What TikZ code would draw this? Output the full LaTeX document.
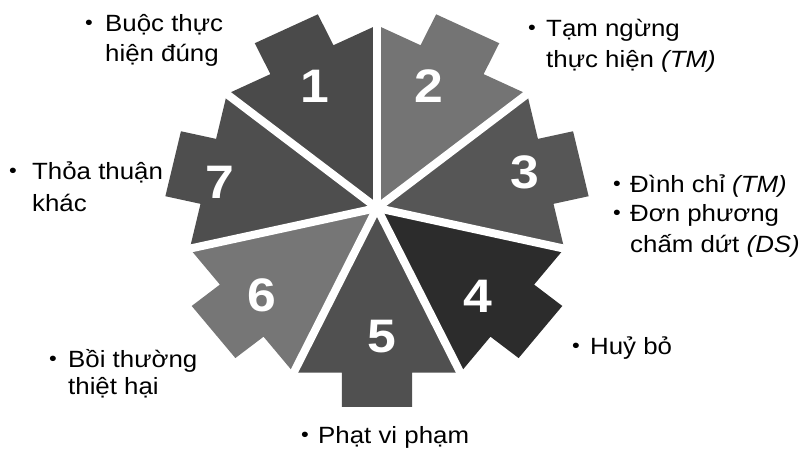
\documentclass[tikz,border=0pt]{standalone}
\usepackage{fontspec}
\setmainfont[FakeStretch=1.1]{Liberation Sans}
\definecolor{cA}{HTML}{4A4A4A}
\definecolor{cB}{HTML}{747474}
\definecolor{cC}{HTML}{565656}
\definecolor{cD}{HTML}{2C2C2C}
\definecolor{cE}{HTML}{505050}
\definecolor{cF}{HTML}{767676}
\definecolor{cG}{HTML}{4E4E4E}
\newcommand{\wheelseg}[3]{%
  \fill[#2, rotate=#1] (0,0) -- (168,-80.9) -- (168,-34) -- (203,-34) -- (203,34) -- (168,34) -- (168,80.9) -- cycle;}
\tikzset{
  lbl/.style={inner sep=0pt, font=\fontsize{23.5}{28}\selectfont, text=black},
  bul/.style={inner sep=0pt, font=\fontsize{20}{22}\selectfont, text=black},
  num/.style={inner sep=0pt, font=\fontsize{47}{50}\selectfont\bfseries, text=white},
  gapline/.style={white, line width=8pt}
}
\begin{document}
\begin{tikzpicture}[x=1pt,y=1pt]
\useasboundingbox (0,0) rectangle (810,450);
\begin{scope}[shift={(377,242)}, xscale=1.03, yscale=0.98]
  \coordinate (c) at (0,0);
  \wheelseg{115.714}{cA}{1}
  \wheelseg{64.286}{cB}{2}
  \wheelseg{12.857}{cC}{3}
  \wheelseg{-38.571}{cD}{4}
  \wheelseg{-90}{cE}{5}
  \wheelseg{-141.429}{cF}{6}
  \wheelseg{167.143}{cG}{7}
  \coordinate (g1) at (90:200);
  \coordinate (g2) at (38.571:200);
  \coordinate (g3) at (-12.857:200);
  \coordinate (g4) at (-64.286:200);
  \coordinate (g5) at (-115.714:200);
  \coordinate (g6) at (-167.143:200);
  \coordinate (g7) at (141.429:200);
  \foreach \g in {g1,g2,g3,g4,g5,g6,g7} \draw[gapline] (c) -- (\g);
\end{scope}
% numbers
\node[num] (n1) at (315,364) {1};
\node[num] (n2) at (429,364) {2};
\node[num] (n3) at (525,278) {3};
\node[num] (n4) at (478,154) {4};
\node[num] (n5) at (382,113) {5};
\node[num] (n6) at (262,155) {6};
\node[num] (n7) at (220,268) {7};
% labels
\node[bul, anchor=base] (b1) at (89,420) {•};
\node[lbl, anchor=base west] (t1a) at (105,418) {Buộc thực};
\node[lbl, anchor=base west] (t1b) at (105,388) {hiện đúng};
\node[bul, anchor=base] (b2) at (532,415) {•};
\node[lbl, anchor=base west] (t2a) at (546,413) {Tạm ngừng};
\node[lbl, anchor=base west] (t2b) at (546,382) {thực hiện \textit{(TM)}};
\node[bul, anchor=base] (b3) at (617,259) {•};
\node[lbl, anchor=base west] (t3a) at (630,257) {Đình chỉ \textit{(TM)}};
\node[bul, anchor=base] (b3b) at (617,230) {•};
\node[lbl, anchor=base west] (t3b) at (630,228) {Đơn phương};
\node[lbl, anchor=base west] (t3c) at (630,197) {chấm dứt \textit{(DS)}};
\node[bul, anchor=base] (b4) at (576,98) {•};
\node[lbl, anchor=base west] (t4) at (590,96) {Huỷ bỏ};
\node[bul, anchor=base] (b5) at (305,9) {•};
\node[lbl, anchor=base west] (t5) at (318,7) {Phạt vi phạm};
\node[bul, anchor=base] (b6) at (53,85) {•};
\node[lbl, anchor=base west] (t6a) at (68,83) {Bồi thường};
\node[lbl, anchor=base west] (t6b) at (68,56) {thiệt hại};
\node[bul, anchor=base] (b7) at (13,272) {•};
\node[lbl, anchor=base west] (t7a) at (32,270) {Thỏa thuận};
\node[lbl, anchor=base west] (t7b) at (32,238) {khác};
\end{tikzpicture}
\end{document}
